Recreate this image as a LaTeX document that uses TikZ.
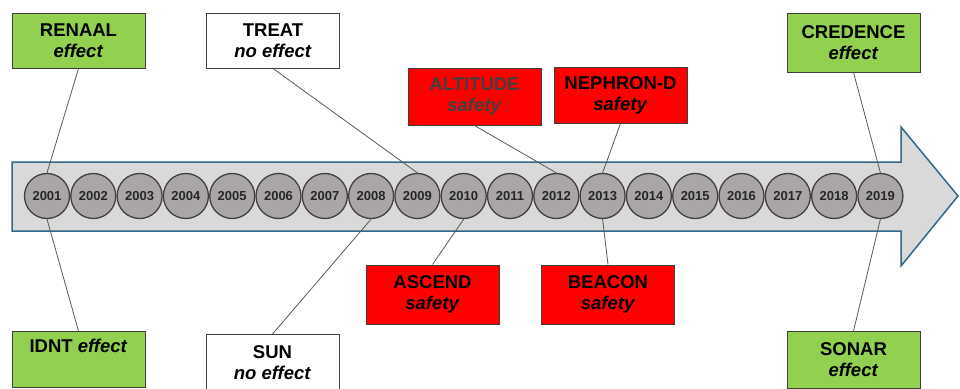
\documentclass[tikz,border=0pt]{standalone}
\usepackage{fontspec}
\setmainfont{Liberation Sans}
\definecolor{shaftgray}{RGB}{217,217,217}
\definecolor{shaftblue}{RGB}{49,104,138}
\definecolor{ballgray}{RGB}{170,166,166}
\definecolor{rimgray}{RGB}{64,64,64}
\definecolor{effgreen}{RGB}{146,208,80}
\definecolor{safered}{RGB}{255,0,0}
\tikzset{
  trialbox/.style={draw=rimgray, line width=1pt, minimum width=133pt, minimum height=56pt,
    inner sep=0pt, align=center, font=\fontsize{18.5}{21}\selectfont\bfseries},
  effectbox/.style={trialbox, fill=effgreen},
  noeffectbox/.style={trialbox, fill=white},
  safetybox/.style={trialbox, fill=safered},
  yearball/.style={circle, draw=rimgray, line width=1.3pt, fill=ballgray, minimum size=45pt,
    inner sep=0pt, text=black!85, font=\fontsize{13}{13}\selectfont\bfseries},
  link/.style={draw=black!65, line width=0.8pt}
}
\begin{document}
\begin{tikzpicture}[x=1pt, y=-1pt]
    \useasboundingbox (0,0) rectangle (960,388);

    % --- freccia del tempo ---
    \filldraw[fill=shaftgray, draw=shaftblue, line width=1.5pt]
        (12,162) -- (901,162) -- (901,127) -- (958,196) -- (901,266) -- (901,231) -- (12,231) -- cycle;

    % --- anni ---
    \foreach \yr [count=\i from 0] in {2001,...,2019}
        \node[yearball] (y\yr) at ({47+46.3*\i},196) {\yr};

    % --- studi sopra ---
    \node[effectbox, minimum height=55pt] (renaal) at (78.5,40.5) {RENAAL\\\textit{effect}};
    \node[noeffectbox, minimum height=55pt] (treat) at (273,40.5) {TREAT\\\textit{no effect}};
    \node[safetybox, minimum height=57pt, text=black!75] (altitude) at (474.5,96.5) {ALTITUDE\\\textit{safety}};
    \node[safetybox] (nephron) at (620.5,95) {NEPHRON-D\\\textit{safety}};
    \node[effectbox, minimum height=59pt] (credence) at (853.5,42.5) {CREDENCE\\\textit{effect}};

    % --- studi sotto ---
    \node[safetybox, minimum height=59pt] (ascend) at (432.5,294.5) {ASCEND\\\textit{safety}};
    \node[safetybox, minimum height=59pt] (beacon) at (608,294.5) {BEACON\\\textit{safety}};
    \node[effectbox, anchor=north] (idnt) at (78.5,331) {IDNT \textit{effect}\\\strut};
    \node[noeffectbox, anchor=north, minimum height=57pt] (sun) at (272.5,334) {SUN\\\textit{no effect}};
    \node[effectbox, anchor=north, minimum height=57pt] (sonar) at (853.5,331) {SONAR\\\textit{effect}};

    % --- collegamenti ---
    \draw[link] (renaal.south) -- (y2001.north);
    \draw[link] (treat.south) -- (y2009.north);
    \draw[link] (altitude.south) -- (y2012.north);
    \draw[link] (nephron.south) -- (y2013.north);
    \draw[link] (credence.south) -- (y2019.north);
    \draw[link] (y2001.south) -- (idnt.north);
    \draw[link] (y2008.south) -- (sun.north);
    \draw[link] (y2010.south) -- (ascend.north);
    \draw[link] (y2013.south) -- (beacon.north);
    \draw[link] (y2019.south) -- (sonar.north);
\end{tikzpicture}
\end{document}
